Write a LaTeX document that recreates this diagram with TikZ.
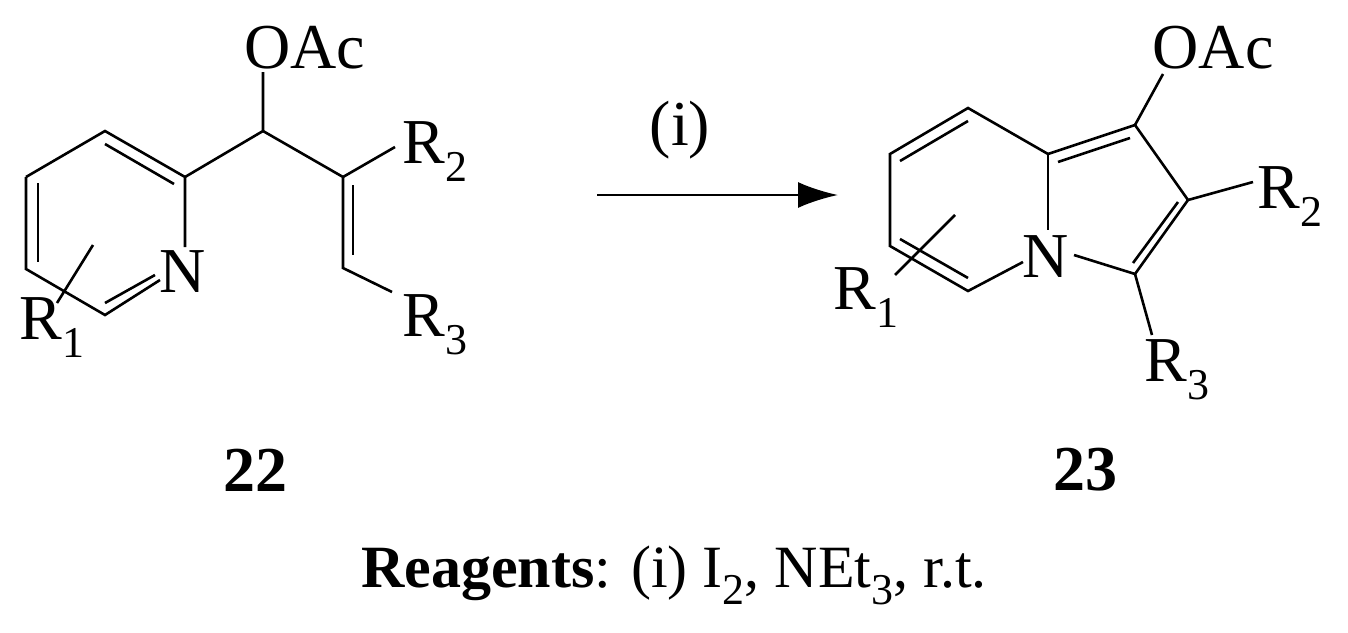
\documentclass[tikz,border=0pt]{standalone}
\usepackage{fontspec}
\setmainfont{Liberation Serif}
\usetikzlibrary{arrows.meta}
\newcommand{\mysub}[1]{\raisebox{-0.28em}{\fontsize{44}{44}\selectfont #1}}
\begin{document}
\begin{tikzpicture}[x=1pt,y=-1pt,line width=2.6pt,
  lab/.style={inner sep=1pt,font=\fontsize{64}{70}\selectfont},
  big/.style={inner sep=0pt,font=\fontsize{64}{70}\selectfont}]
\useasboundingbox (0,0) rectangle (1348,632);
% left molecule
\coordinate (a1) at (105,131);
\coordinate (a2) at (185,177);
\node[lab] (aN) at (183,272) {N};
\coordinate (aNt) at (185,247);
\coordinate (aNb) at (160,280);
\coordinate (a4) at (105,315);
\coordinate (a5) at (26,269);
\coordinate (a6) at (26,177);
\coordinate (ach) at (263,131);
\node[lab,anchor=base] (aO) at (305,68) {OAc};
\coordinate (aOe) at (263,72);
\coordinate (ac) at (343,177);
\coordinate (ad) at (343,268);
\node[lab] (aR2) at (435,152) {R\mysub{2}};
\node[lab] (aR3) at (435,325) {R\mysub{3}};
\node[lab] (aR1) at (52,328) {R\mysub{1}};
\coordinate (aS1) at (93,245);
\coordinate (aS2) at (57,303);
\draw (a6)--(a1)--(a2)--(aNt);
\draw (aNb)--(a4)--(a5)--(a6);
\draw (a2)--(ach)--(aOe);
\draw (ach)--(ac)--(ad)--(392,292);
\draw (ac)--(395,147);
\draw (105,144)--(174,184);
\draw (38,183)--(38,262);
\draw (105,303)--(155,275);
\draw (353,185)--(353,255);
\draw (aS1)--(aS2);
% arrow
\coordinate (ar1) at (597,195);
\coordinate (ar2) at (838,195);
\draw[-{Latex[length=40pt,width=26pt]}] (ar1)--(ar2);
\node[lab] (cond) at (680,130) {(i)};
% right molecule
\coordinate (b1) at (968,108);
\coordinate (b2) at (890,154);
\coordinate (b3) at (890,246);
\coordinate (b4) at (968,291);
\node[lab] (bN) at (1046,257) {N};
\coordinate (b8) at (1048,154);
\coordinate (c1) at (1135,125);
\coordinate (c2) at (1188,200);
\coordinate (c3) at (1135,274);
\draw (b8)--(b1)--(b2)--(b3)--(b4)--(1023,262);
\draw (b8)--(1048,230);
\draw (1074,255)--(c3)--(c2)--(c1)--(b8);
\draw (900,161)--(968,121);
\draw (900,239)--(968,278);
\draw (1058,162)--(1130,138);
\draw (1133,263)--(1178,202);
\node[lab,anchor=base] (bO) at (1213,68) {OAc};
\draw (c1)--(1163,74);
\node[lab] (bR2) at (1290,197) {R\mysub{2}};
\draw (c2)--(1253,182);
\node[lab] (bR3) at (1177,370) {R\mysub{3}};
\draw (c3)--(1152,335);
\node[lab] (bR1) at (866,298) {R\mysub{1}};
\draw (955,215)--(895,275);
% labels
\node[big,font=\fontsize{64}{70}\selectfont\bfseries] (n22) at (255,470) {22};
\node[big,font=\fontsize{64}{70}\selectfont\bfseries] (n23) at (1085,470) {23};
\node[big,font=\fontsize{60}{66}\selectfont] (reag) at (674,575) {\textbf{Reagents}: (i) I\mysub{2}, NEt\mysub{3}, r.t.};
\end{tikzpicture}
\end{document}
